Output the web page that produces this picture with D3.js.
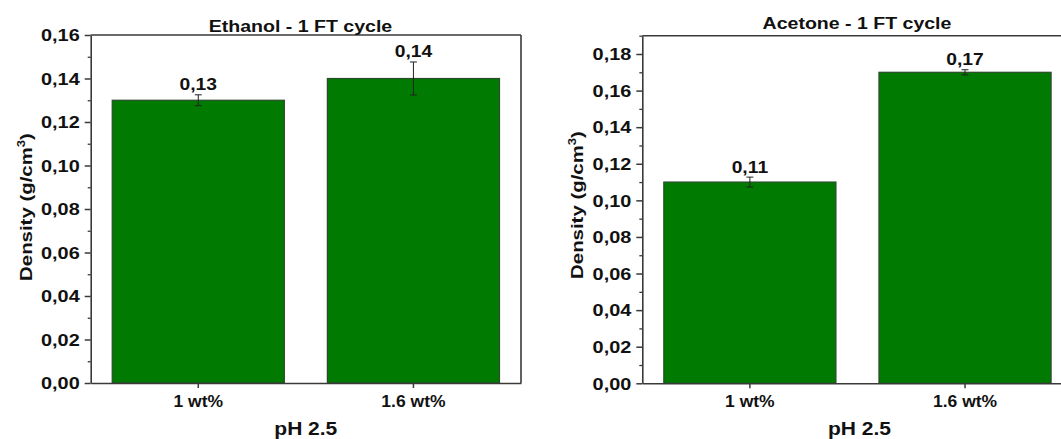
<!DOCTYPE html>
<html>
<head>
<meta charset="utf-8">
<script src="https://cdn.jsdelivr.net/npm/d3@7"></script>
<style>
  html, body { margin: 0; padding: 0; background: #fff; }
  svg { display: block; font-family: "Liberation Sans", Arial, sans-serif; font-weight: bold; }
</style>
</head>
<body>
<svg id="chart" width="1061" height="439"></svg>
<script>
// ---------------- data ----------------
const categories = ["1 wt%", "1.6 wt%"];
const ethanolDensity = [0.13, 0.14];
const ethanolError = [0.0025, 0.0076];
const acetoneDensity = [0.11, 0.17];
const acetoneError = [0.0027, 0.0014];
const ethanolTicks = [0, 0.02, 0.04, 0.06, 0.08, 0.10, 0.12, 0.14, 0.16];
const acetoneTicks = [0, 0.02, 0.04, 0.06, 0.08, 0.10, 0.12, 0.14, 0.16, 0.18];
const ethanolTitle = "Ethanol - 1 FT cycle";
const acetoneTitle = "Acetone - 1 FT cycle";
const xTitle = "pH 2.5";
const yTitle = "Density (g/cm";

// ---------------- layout ----------------
const panels = [
  { title: ethanolTitle, values: ethanolDensity, errors: ethanolError, ticks: ethanolTicks,
    yMax: 0.16, x0: 90.7, x1: 521, yTop: 35, yBot: 383, titleX: 300.5, titleY: 31.7,
    ylabX: 31.5, ylabY: 207, xTitleX: 305.8, rightBorder: true },
  { title: acetoneTitle, values: acetoneDensity, errors: acetoneError, ticks: acetoneTicks,
    yMax: 0.19, x0: 642.3, x1: 1072.6, yTop: 35.7, yBot: 383.3, titleX: 857, titleY: 29.3,
    ylabX: 583, ylabY: 205, xTitleX: 859.5, rightBorder: false }
];

const AXIS = "#3a3a3a";
const FILL = "#007a00";
const BAR_STROKE = "#2a4a2a";
const SX = 1.2;

const locale = d3.formatLocale({ decimal: ",", thousands: ".", grouping: [3], currency: ["", ""] });
const fmt = locale.format(".2f");

const svg = d3.select("#chart");

function placeText(g, x, y, txt, size, sx, anchor) {
  return g.append("text")
    .attr("transform", `translate(${x},${y}) scale(${sx},1)`)
    .attr("text-anchor", anchor || "middle")
    .attr("font-size", size)
    .attr("fill", "#111")
    .text(txt);
}

panels.forEach(p => {
  const g = svg.append("g");
  const x = d3.scaleBand().domain(categories).range([p.x0, p.x1]).paddingInner(0.2).paddingOuter(0.1);
  const y = d3.scaleLinear().domain([0, p.yMax]).range([p.yBot, p.yTop]);

  // bars
  g.selectAll("rect.bar").data(p.values).join("rect")
    .attr("class", "bar")
    .attr("x", (d, i) => x(categories[i]))
    .attr("width", x.bandwidth())
    .attr("y", d => y(d))
    .attr("height", d => y(0) - y(d))
    .attr("fill", FILL)
    .attr("stroke", BAR_STROKE)
    .attr("stroke-width", 1.2);

  // error bars
  const cx = i => x(categories[i]) + x.bandwidth() / 2;
  const eb = g.selectAll("g.err").data(p.values).join("g").attr("class", "err")
    .attr("stroke", "#222").attr("stroke-width", 1);
  eb.append("line").attr("x1", (d, i) => cx(i)).attr("x2", (d, i) => cx(i))
    .attr("y1", (d, i) => y(d + p.errors[i])).attr("y2", (d, i) => y(d - p.errors[i]));
  eb.append("line").attr("x1", (d, i) => cx(i) - 3.5).attr("x2", (d, i) => cx(i) + 3.5)
    .attr("y1", (d, i) => y(d + p.errors[i])).attr("y2", (d, i) => y(d + p.errors[i]));
  eb.append("line").attr("x1", (d, i) => cx(i) - 3.5).attr("x2", (d, i) => cx(i) + 3.5)
    .attr("y1", (d, i) => y(d - p.errors[i])).attr("y2", (d, i) => y(d - p.errors[i]));

  // value labels
  p.values.forEach((v, i) => {
    placeText(g, cx(i), y(v + p.errors[i]) - 4.5, fmt(v), 16.5, 1.17);
  });

  // minor ticks
  const minor = p.ticks.slice(0, -1).map((t, i) => (t + p.ticks[i + 1]) / 2);
  if (p.yMax > p.ticks[p.ticks.length - 1]) minor.push(p.ticks[p.ticks.length - 1] + 0.01);
  const gMinor = g.append("g").attr("transform", `translate(${p.x0},0)`)
    .call(d3.axisLeft(y).tickValues(minor).tickSize(3).tickFormat(""));
  gMinor.select(".domain").remove();
  gMinor.selectAll("line").attr("stroke", AXIS).attr("stroke-width", 1.3);

  // y axis
  const gy = g.append("g").attr("transform", `translate(${p.x0},0)`)
    .call(d3.axisLeft(y).tickValues(p.ticks).tickSize(6).tickSizeOuter(0).tickFormat(fmt));
  gy.select(".domain").attr("stroke", AXIS).attr("stroke-width", 1.6);
  gy.selectAll("line").attr("stroke", AXIS).attr("stroke-width", 1.5);
  gy.selectAll("text")
    .attr("x", null).attr("dy", null)
    .attr("transform", "translate(-11,5.8) scale(1.22,1)")
    .attr("font-size", 16.3).attr("fill", "#111");
  gy.attr("font-family", null).attr("font-size", null);

  // x axis
  const gx = g.append("g").attr("transform", `translate(0,${p.yBot})`)
    .call(d3.axisBottom(x).tickSize(5).tickSizeOuter(0));
  gx.select(".domain").attr("stroke", AXIS).attr("stroke-width", 1.6);
  gx.selectAll("line").attr("stroke", AXIS).attr("stroke-width", 1.5);
  gx.selectAll("text")
    .attr("y", null).attr("dy", null)
    .attr("transform", "translate(0,23.7) scale(1.06,1)")
    .attr("font-size", 16.5).attr("fill", "#111");
  gx.attr("font-family", null).attr("font-size", null);

  // frame top & right
  g.append("line").attr("x1", p.x0).attr("x2", p.x1).attr("y1", p.yTop).attr("y2", p.yTop)
    .attr("stroke", AXIS).attr("stroke-width", 1.6);
  if (p.rightBorder) {
    g.append("line").attr("x1", p.x1).attr("x2", p.x1).attr("y1", p.yTop).attr("y2", p.yBot)
      .attr("stroke", AXIS).attr("stroke-width", 1.6);
  }

  // title
  placeText(g, p.titleX, p.titleY, p.title, 17, 1.15);

  // x title
  placeText(g, p.xTitleX, 435, xTitle, 17.5, SX);

  // y title
  const yl = g.append("text")
    .attr("transform", `translate(${p.ylabX},${p.ylabY}) rotate(-90) scale(1.2,1)`)
    .attr("text-anchor", "middle")
    .attr("font-size", 17)
    .attr("fill", "#111");
  yl.append("tspan").text(yTitle);
  yl.append("tspan").attr("font-size", 11).attr("dy", -7).text("3");
  yl.append("tspan").attr("dy", 7).text(")");
});
</script>
</body>
</html>
